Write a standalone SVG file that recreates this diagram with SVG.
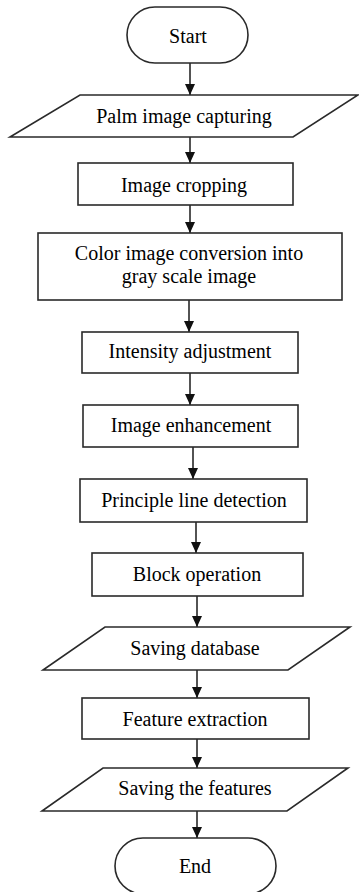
<svg xmlns="http://www.w3.org/2000/svg" width="359" height="892" viewBox="0 0 359 892">
<defs>
<marker id="ah" markerWidth="11" markerHeight="10" refX="11" refY="5" orient="auto" markerUnits="userSpaceOnUse" viewBox="0 0 11 10">
<path d="M0,0 L11,5 L0,10 Z" fill="#111"/>
</marker>
</defs>
<rect width="359" height="892" fill="#fff"/>
<g id="connectors" stroke="#1a1a1a" stroke-width="1.5" fill="none" marker-end="url(#ah)">
<line x1="190" y1="63" x2="190" y2="95" marker-end="url(#ah)"/>
<line x1="190" y1="137" x2="190" y2="163" marker-end="url(#ah)"/>
<line x1="190" y1="205" x2="190" y2="233" marker-end="url(#ah)"/>
<line x1="189" y1="300" x2="189" y2="332" marker-end="url(#ah)"/>
<line x1="190" y1="373" x2="190" y2="405" marker-end="url(#ah)"/>
<line x1="193" y1="447" x2="193" y2="479" marker-end="url(#ah)"/>
<line x1="196" y1="522" x2="196" y2="553" marker-end="url(#ah)"/>
<line x1="197" y1="596" x2="197" y2="627" marker-end="url(#ah)"/>
<line x1="197" y1="670" x2="197" y2="698" marker-end="url(#ah)"/>
<line x1="197" y1="739" x2="197" y2="768" marker-end="url(#ah)"/>
<line x1="197" y1="811" x2="197" y2="838" marker-end="url(#ah)"/>
</g>
<g id="nodes" font-family="Liberation Serif" font-size="20" text-anchor="middle">
<g id="start">
<rect fill="#fff" stroke="#2a2a2a" stroke-width="1.6" x="127" y="7" width="121" height="56" rx="28" ry="28"/>
<text font-family="Liberation Serif" x="188" y="43">Start</text>
</g>
<g id="palm">
<polygon fill="#fff" stroke="#2a2a2a" stroke-width="1.6" points="80,95 358,95 293,137 10,137"/>
<text font-family="Liberation Serif" x="184" y="123">Palm image capturing</text>
</g>
<g id="crop">
<rect fill="#fff" stroke="#2a2a2a" stroke-width="1.6" x="78" y="163" width="215" height="42"/>
<text font-family="Liberation Serif" x="184" y="192">Image cropping</text>
</g>
<g id="gray">
<rect fill="#fff" stroke="#2a2a2a" stroke-width="1.6" x="38" y="233" width="304" height="67"/>
<text font-family="Liberation Serif" x="189" y="260">Color image conversion into</text>
<text font-family="Liberation Serif" x="189" y="283">gray scale image</text>
</g>
<g id="intensity">
<rect fill="#fff" stroke="#2a2a2a" stroke-width="1.6" x="82" y="332" width="216" height="41"/>
<text font-family="Liberation Serif" x="190" y="358">Intensity adjustment</text>
</g>
<g id="enhance">
<rect fill="#fff" stroke="#2a2a2a" stroke-width="1.6" x="83" y="405" width="215" height="42"/>
<text font-family="Liberation Serif" x="191" y="432">Image enhancement</text>
</g>
<g id="principle">
<rect fill="#fff" stroke="#2a2a2a" stroke-width="1.6" x="80" y="479" width="227" height="43"/>
<text font-family="Liberation Serif" x="194" y="507">Principle line detection</text>
</g>
<g id="block">
<rect fill="#fff" stroke="#2a2a2a" stroke-width="1.6" x="92" y="553" width="211" height="43"/>
<text font-family="Liberation Serif" x="197" y="581">Block operation</text>
</g>
<g id="savedb">
<polygon fill="#fff" stroke="#2a2a2a" stroke-width="1.6" points="105,627 350,627 288,670 43,670"/>
<text font-family="Liberation Serif" x="195" y="655">Saving database</text>
</g>
<g id="feature">
<rect fill="#fff" stroke="#2a2a2a" stroke-width="1.6" x="82" y="698" width="227" height="41"/>
<text font-family="Liberation Serif" x="195" y="726">Feature extraction</text>
</g>
<g id="savefeat">
<polygon fill="#fff" stroke="#2a2a2a" stroke-width="1.6" points="103,768 348,768 287,811 42,811"/>
<text font-family="Liberation Serif" x="195" y="795">Saving the features</text>
</g>
<g id="end">
<rect fill="#fff" stroke="#2a2a2a" stroke-width="1.6" x="115" y="838" width="161" height="56" rx="28" ry="28"/>
<text font-family="Liberation Serif" x="195" y="873">End</text>
</g>
</g>
</svg>
